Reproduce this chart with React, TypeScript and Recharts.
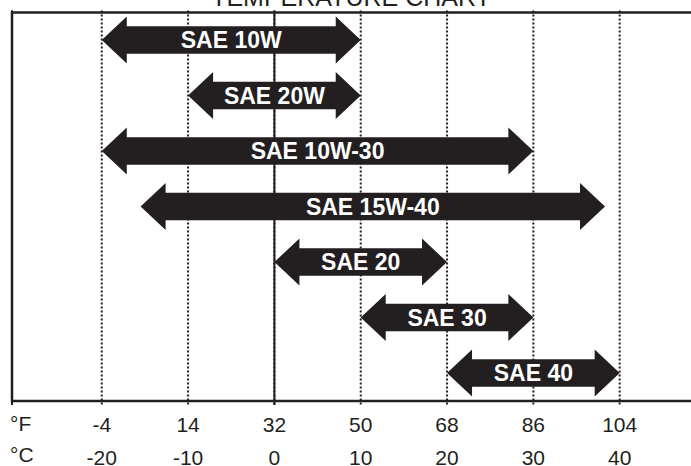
import { BarChart, Bar, XAxis, YAxis, CartesianGrid, ReferenceArea, Label } from "recharts";

const grades = ["SAE 10W", "SAE 20W", "SAE 10W-30", "SAE 15W-40", "SAE 20", "SAE 30", "SAE 40"];
const minCelsius = [-20, -10, -20, -15.5, 0, 10, 20];
const maxCelsius = [10, 10, 30, 38.3, 20, 30, 40];

const celsiusTicks = [-20, -10, 0, 10, 20, 30, 40];
const celsiusLabels = ["-20", "-10", "0", "10", "20", "30", "40"];
const fahrenheitLabels = ["-4", "14", "32", "50", "68", "86", "104"];
const freezingPoint = [0];

const data = grades.map((name, i) => ({ name, range: [minCelsius[i], maxCelsius[i]] }));

const INK = "#231f20";
const FONT = "'Liberation Sans', Arial, Helvetica, sans-serif";

// double-headed arrow with the grade name inside
function ArrowShape(props: any) {
  const { x, y, width, height, payload } = props;
  const cy = y + height / 2;
  const head = 25;
  const hh = 23.5;
  const bh = 13.7;
  const x2 = x + width;
  const pts = [
    [x, cy],
    [x + head, cy - hh],
    [x + head, cy - bh],
    [x2 - head, cy - bh],
    [x2 - head, cy - hh],
    [x2, cy],
    [x2 - head, cy + hh],
    [x2 - head, cy + bh],
    [x + head, cy + bh],
    [x + head, cy + hh],
  ]
    .map((p) => p.join(","))
    .join(" ");
  return (
    <g>
      <polygon points={pts} fill={INK} />
      <text
        x={x + width / 2}
        y={cy + 8.2}
        textAnchor="middle"
        fill="#ffffff"
        fontFamily={FONT}
        fontWeight="bold"
        fontSize={23}
      >
        {payload.name}
      </text>
    </g>
  );
}

export default function App() {
  const domain: [number, number] = [-30.4, 50];
  return (
    <div
      style={{
        position: "absolute",
        left: 0,
        top: 0,
        width: 691,
        height: 466,
        overflow: "hidden",
        background: "#fff",
      }}
    >
      <div
        style={{
          position: "absolute",
          left: 0,
          top: -15.2,
          width: 702,
          textAlign: "center",
          fontFamily: FONT,
          fontSize: 25,
          lineHeight: "25px",
          color: INK,
        }}
      >
        TEMPERATURE CHART
      </div>
      <BarChart
        width={706}
        height={466}
        data={data}
        layout="vertical"
        margin={{ top: 10.5, right: 0, bottom: 0, left: 12 }}
        style={{ position: "absolute", left: 0, top: 0 }}
      >
        {/* fahrenheit row, next to the plot */}
        <XAxis
          xAxisId="a"
          type="number"
          domain={domain}
          ticks={celsiusTicks}
          tickFormatter={(_v: number, i: number) => fahrenheitLabels[i]}
          axisLine={false}
          tickLine={false}
          tickSize={0}
          tickMargin={11.6}
          height={29}
          tick={{ fill: INK, fontSize: 21, fontFamily: FONT }}
          allowDataOverflow
        >
          <Label value="°F" position="insideLeft" offset={-2} dy={4} fill={INK} fontSize={21} fontFamily={FONT} />
        </XAxis>
        {/* celsius row underneath */}
        <XAxis
          xAxisId="b"
          type="number"
          domain={domain}
          ticks={celsiusTicks}
          tickFormatter={(_v: number, i: number) => celsiusLabels[i]}
          axisLine={false}
          tickLine={false}
          tickSize={0}
          tickMargin={16}
          height={32}
          tick={{ fill: INK, fontSize: 21, fontFamily: FONT }}
          allowDataOverflow
        >
          <Label value="°C" position="insideLeft" offset={-2} dy={5} fill={INK} fontSize={21} fontFamily={FONT} />
        </XAxis>
        <XAxis xAxisId="zero" type="number" domain={domain} ticks={freezingPoint} hide allowDataOverflow />
        <YAxis type="category" dataKey="name" hide padding={{ top: 2, bottom: 4 }} />
        <CartesianGrid
          xAxisId="a"
          horizontal={false}
          stroke={INK}
          strokeWidth={2}
          strokeDasharray="2 2"
        />
        <CartesianGrid xAxisId="zero" horizontal={false} stroke={INK} strokeWidth={2} />
        <Bar xAxisId="a" dataKey="range" shape={ArrowShape} isAnimationActive={false} />
        <ReferenceArea
          xAxisId="a"
          x1={domain[0]}
          x2={domain[1]}
          fill="none"
          fillOpacity={0}
          stroke={INK}
          strokeWidth={2.5}
        />
      </BarChart>
    </div>
  );
}
